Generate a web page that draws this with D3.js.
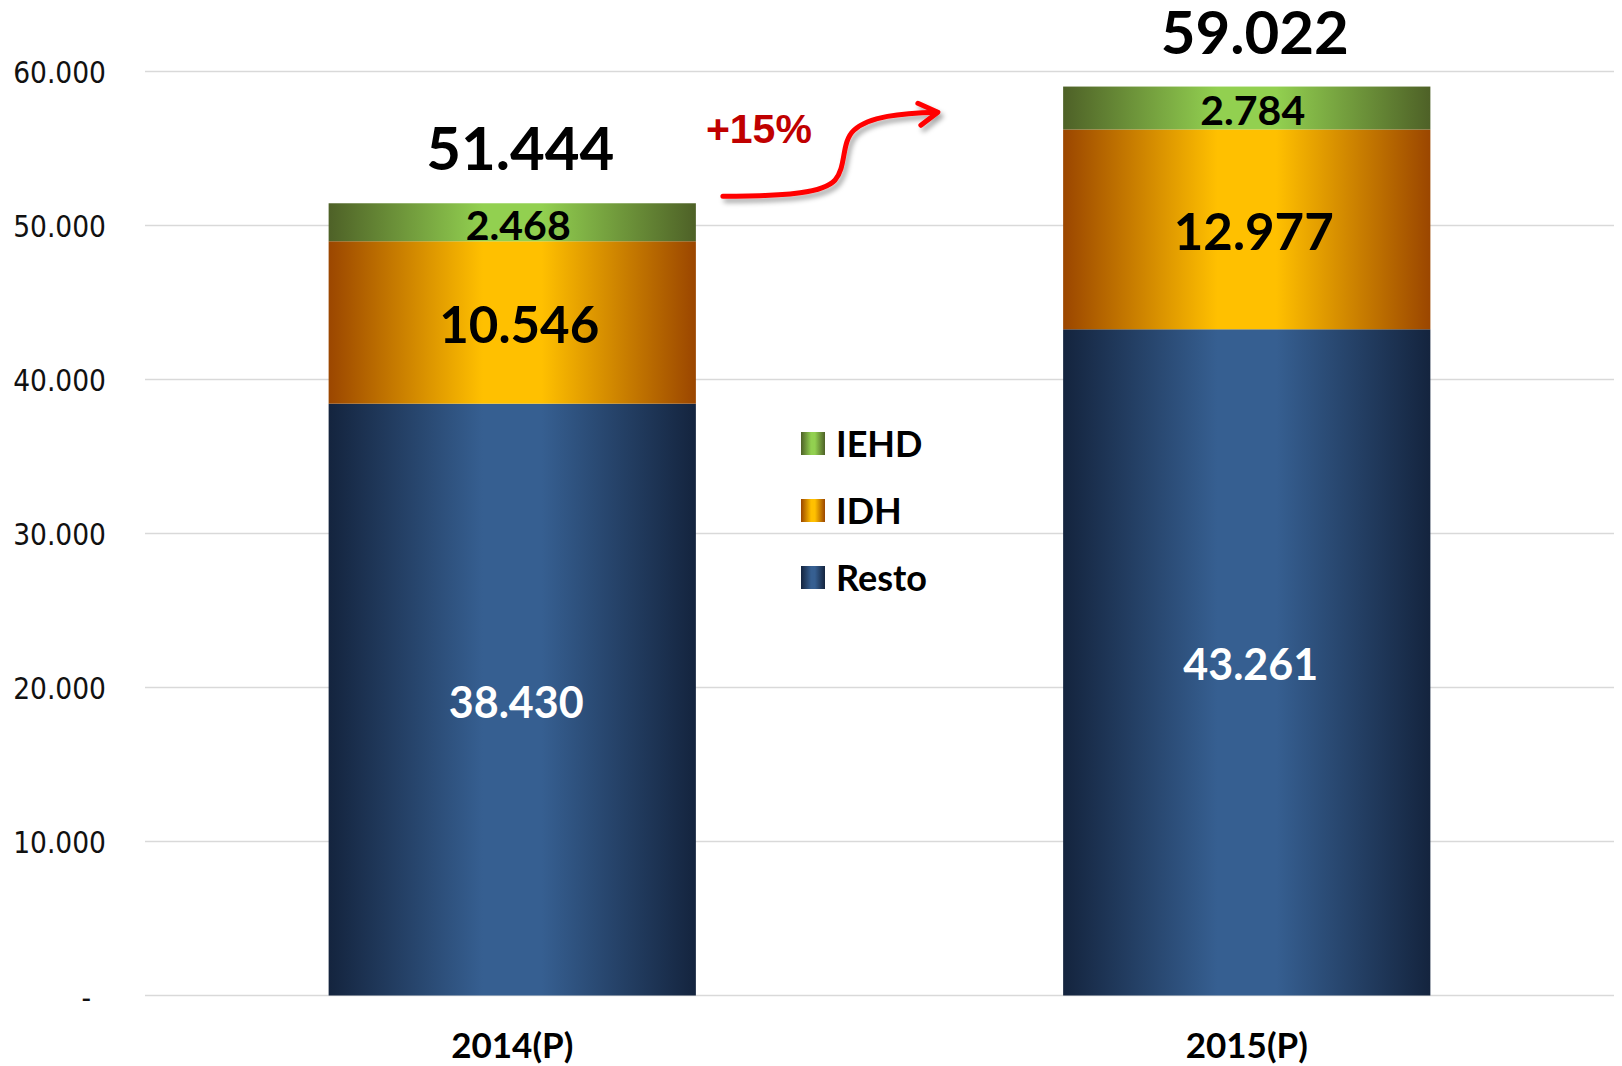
<!DOCTYPE html>
<html>
<head>
<meta charset="utf-8">
<script src="https://cdn.jsdelivr.net/npm/d3@7"></script>
<style>
html,body{margin:0;padding:0;background:#fff;}
svg{display:block;}
</style>
</head>
<body>
<svg id="chart" width="1622" height="1066"></svg>
<script>
// ---- data ----
const categories = ["2014(P)", "2015(P)"];
const seriesNames = ["Resto", "IDH", "IEHD"];
const resto = [38430, 43261];
const idh = [10546, 12977];
const iehd = [2468, 2784];
const totals = [51444, 59022];
const yTicks = [0, 10000, 20000, 30000, 40000, 50000, 60000];
const growthLabel = "+15%";
const legendOrder = ["IEHD", "IDH", "Resto"];

const gradStops = {
  Resto: ["#14243e", "#365f91", "#14243e"],
  IDH:   ["#9b4600", "#ffc000", "#9b4600"],
  IEHD:  ["#4e6127", "#92d050", "#4e6127"]
};
const labelStyle = {
  Resto: {fill: "#ffffff", size: 43, dx: 4},
  IDH:   {fill: "#000000", size: 51, dx: 7},
  IEHD:  {fill: "#000000", size: 41, dx: 6}
};

const svg = d3.select("#chart");
const plotLeft = 145, plotRight = 1614, plotTop = 71.5, plotBottom = 995.5;

const x = d3.scaleBand().domain(categories).range([plotLeft, plotRight]).paddingInner(0.5).paddingOuter(0.25);
const y = d3.scaleLinear().domain([0, 60000]).range([plotBottom, plotTop]);

const loc = d3.formatLocale({decimal: ",", thousands: ".", grouping: [3], currency: ["", ""]});
const fmt = loc.format(",.0f");

// gradients
const defs = svg.append("defs");
seriesNames.forEach(s => {
  const g = defs.append("linearGradient").attr("id", "g-" + s)
    .attr("x1", "0%").attr("x2", "100%").attr("y1", "0%").attr("y2", "0%");
  const st = gradStops[s];
  g.append("stop").attr("offset", "0%").attr("stop-color", st[0]);
  g.append("stop").attr("offset", "42%").attr("stop-color", st[1]);
  g.append("stop").attr("offset", "58%").attr("stop-color", st[1]);
  g.append("stop").attr("offset", "100%").attr("stop-color", st[2]);
});
const f = defs.append("filter").attr("id", "shadow").attr("x", "-20%").attr("y", "-40%").attr("width", "140%").attr("height", "180%");
f.append("feDropShadow").attr("dx", 3).attr("dy", 4).attr("stdDeviation", 2.5).attr("flood-color", "#000").attr("flood-opacity", 0.35);

// gridlines
svg.append("g").selectAll("line").data(yTicks).join("line")
  .attr("x1", plotLeft).attr("x2", plotRight)
  .attr("y1", d => y(d)).attr("y2", d => y(d))
  .attr("stroke", "#d9d9d9").attr("stroke-width", 1.5);

// y axis labels
const yAxis = d3.axisLeft(y).tickValues(yTicks).tickSize(0).tickPadding(0)
  .tickFormat(d => d === 0 ? "-" : fmt(d));
const ya = svg.append("g").attr("transform", "translate(106,0)").call(yAxis);
ya.select(".domain").remove();
ya.selectAll("text")
  .attr("font-family", "'DejaVu Sans Condensed', 'DejaVu Sans', sans-serif")
  .attr("font-stretch", "condensed")
  .attr("font-size", 29.5).attr("fill", "#111").attr("dy", "0.36em");
ya.selectAll("text").filter(d => d === 0).attr("x", -15).attr("dy", "0.42em");

// stacked bars
const rows = categories.map((c, i) => ({cat: c, Resto: resto[i], IDH: idh[i], IEHD: iehd[i]}));
const stack = d3.stack().keys(seriesNames)(rows);
const barG = svg.append("g");
stack.forEach(layer => {
  const s = layer.key;
  barG.append("g").selectAll("rect").data(layer).join("rect")
    .attr("x", d => x(d.data.cat))
    .attr("width", x.bandwidth())
    .attr("y", d => y(d[1]))
    .attr("height", d => y(d[0]) - y(d[1]))
    .attr("fill", "url(#g-" + s + ")");
});

// segment labels
const lblFont = "Lato, 'Open Sans', sans-serif";
stack.forEach(layer => {
  const s = layer.key, st = labelStyle[s];
  svg.append("g").selectAll("text").data(layer).join("text")
    .attr("x", d => x(d.data.cat) + x.bandwidth() / 2 + st.dx)
    .attr("y", d => (y(d[0]) + y(d[1])) / 2 + st.size * 0.36 + 2.5)
    .attr("text-anchor", "middle")
    .attr("font-family", lblFont).attr("font-weight", 700)
    .attr("font-size", st.size).attr("fill", st.fill)
    .text(d => fmt(d[1] - d[0]));
});

// totals
svg.append("g").selectAll("text").data(categories).join("text")
  .attr("x", (d, i) => x(d) + x.bandwidth() / 2 + 8)
  .attr("y", (d, i) => y(totals[i]) - 33)
  .attr("text-anchor", "middle")
  .attr("font-family", lblFont).attr("font-weight", 700)
  .attr("font-size", 60).attr("fill", "#000")
  .text((d, i) => fmt(totals[i]));

// category labels
svg.append("g").selectAll("text").data(categories).join("text")
  .attr("x", d => x(d) + x.bandwidth() / 2)
  .attr("y", 1058)
  .attr("text-anchor", "middle")
  .attr("font-family", lblFont).attr("font-weight", 700)
  .attr("font-size", 35).attr("fill", "#000")
  .text(d => d);

// legend
const lg = svg.append("g").attr("transform", "translate(801,432)");
const li = lg.selectAll("g").data(legendOrder).join("g")
  .attr("transform", (d, i) => `translate(0,${i * 67})`);
li.append("rect").attr("width", 24).attr("height", 23).attr("fill", d => "url(#g-" + d + ")");
li.append("text").attr("x", 35).attr("y", 24.5)
  .attr("font-family", lblFont).attr("font-weight", 700)
  .attr("font-size", 36).attr("fill", "#000").text(d => d);

// growth arrow annotation (positioned relative to the first bar)
const ax = x(categories[0]) + x.bandwidth() + 27;
const ay = y(totals[0]) - 7;
const arrow = svg.append("g").attr("filter", "url(#shadow)")
  .attr("transform", `translate(${ax},${ay})`);
arrow.append("path")
  .attr("d", "M0,0 C68,0 101,-4 112,-16 C124,-30 118,-54 131,-66 C146,-80 178,-83 214,-84")
  .attr("fill", "none").attr("stroke", "#ff0000").attr("stroke-width", 5).attr("stroke-linecap", "round");
arrow.append("path")
  .attr("d", "M195,-93 L215,-84 L198,-71")
  .attr("fill", "none").attr("stroke", "#ff0000").attr("stroke-width", 5)
  .attr("stroke-linecap", "round").attr("stroke-linejoin", "round");
svg.append("text").attr("x", ax - 17).attr("y", ay - 53)
  .attr("font-family", "'Liberation Sans', Arial, sans-serif").attr("font-weight", 700)
  .attr("font-size", 41).attr("fill", "#c00000").text(growthLabel);
</script>
</body>
</html>
